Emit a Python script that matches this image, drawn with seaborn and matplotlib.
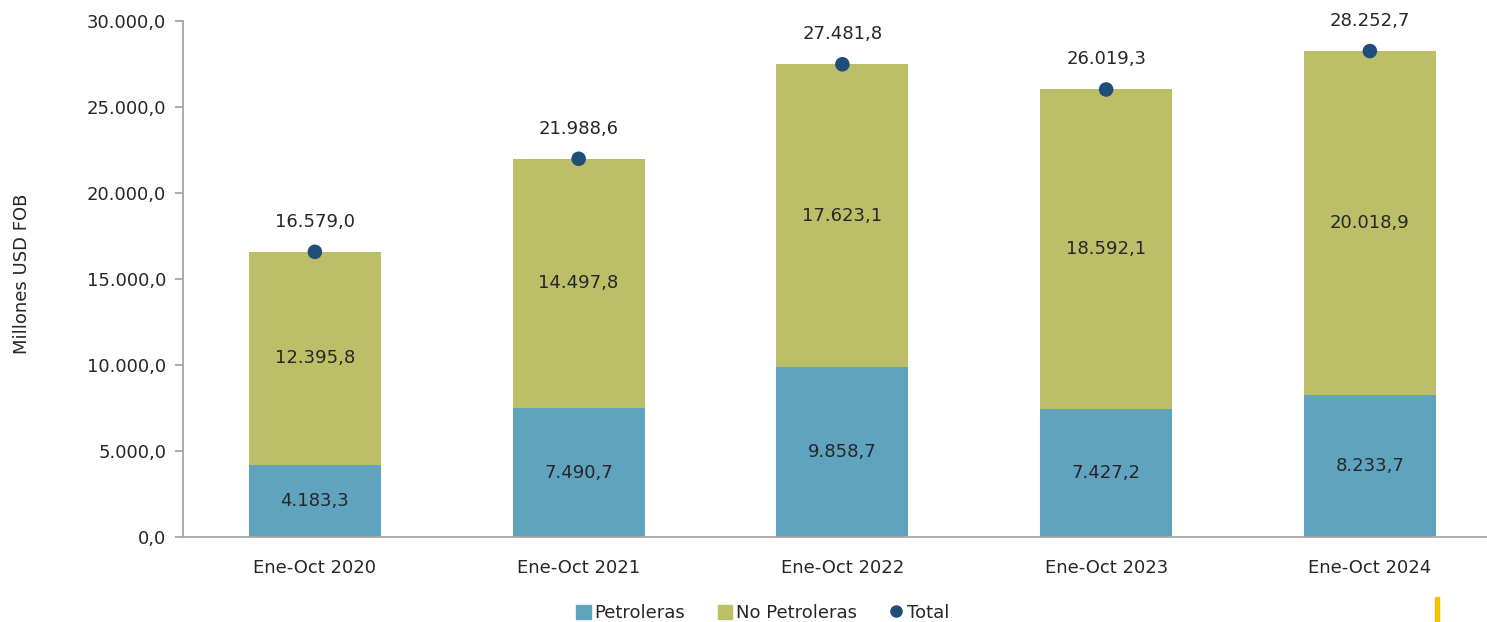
import matplotlib
matplotlib.use("Agg")
import matplotlib.pyplot as plt
import matplotlib.patches as mpatches
from matplotlib.lines import Line2D
import seaborn as sns
import pandas as pd

periods = ["Ene-Oct 2020", "Ene-Oct 2021", "Ene-Oct 2022", "Ene-Oct 2023", "Ene-Oct 2024"]
petroleras = [4183.3, 7490.7, 9858.7, 7427.2, 8233.7]
no_petroleras = [12395.8, 14497.8, 17623.1, 18592.1, 20018.9]
total = [16579.0, 21988.6, 27481.8, 26019.3, 28252.7]

C_PETRO = "#60A3BF"
C_NOPETRO = "#BCBF67"
C_TOTAL = "#1F4E79"
TXT = "#262626"
GRID = "#A6A6A6"
FS = 13

sns.set_theme(style="white")
plt.rcParams["font.family"] = ["DejaVu Sans"]


def fmt(v):
    s = f"{v:,.1f}"
    return s.replace(",", "X").replace(".", ",").replace("X", ".")


df = pd.DataFrame({"periodo": periods, "petro": petroleras,
                   "nopetro": no_petroleras, "total": total})
df["stack"] = df["petro"] + df["nopetro"]

fig = plt.figure(figsize=(14.87, 6.22), dpi=100)
ax = fig.add_axes([183 / 1487, 85 / 622, 1318.75 / 1487, 516 / 622])

# stacked bars: full stack in olive, oil exports drawn over the bottom part
sns.barplot(data=df, x="periodo", y="stack", color=C_NOPETRO, width=0.5,
            saturation=1, ax=ax, linewidth=0)
sns.barplot(data=df, x="periodo", y="petro", color=C_PETRO, width=0.5,
            saturation=1, ax=ax, linewidth=0)
sns.scatterplot(data=df, x="periodo", y="total", color=C_TOTAL, s=110,
                edgecolor="none", zorder=5, ax=ax)

for i, row in df.iterrows():
    ax.text(i, row["petro"] / 2, fmt(row["petro"]), ha="center", va="center",
            fontsize=FS, color=TXT)
    ax.text(i, row["petro"] + row["nopetro"] / 2, fmt(row["nopetro"]),
            ha="center", va="center", fontsize=FS, color=TXT)
    ax.annotate(fmt(row["total"]), (i, row["total"]), xytext=(0, 30),
                textcoords="offset pixels", ha="center", va="center",
                fontsize=FS, color=TXT)

ax.set_xlim(-0.5, 4.5)
ax.set_ylim(0, 30000)
ax.set_yticks(range(0, 30001, 5000))
ax.set_yticklabels([fmt(v) for v in range(0, 30001, 5000)])
ax.set_xlabel("")
ax.set_ylabel("")
fig.text(22 / 1487, 1 - 273.5 / 622, "Millones USD FOB", rotation=90,
         ha="center", va="center", fontsize=FS, color=TXT)

for side in ["top", "right"]:
    ax.spines[side].set_visible(False)
for side in ["left", "bottom"]:
    ax.spines[side].set_color(GRID)
    ax.spines[side].set_linewidth(1.3)

ax.tick_params(axis="y", which="both", left=True, length=6, width=1.3,
               color=GRID, labelsize=FS, labelcolor=TXT, pad=6)
ax.tick_params(axis="x", bottom=False, labelsize=FS, labelcolor=TXT, pad=10)

handles = [
    mpatches.Patch(color=C_PETRO, label="Petroleras"),
    mpatches.Patch(color=C_NOPETRO, label="No Petroleras"),
    Line2D([], [], marker="o", linestyle="none", color=C_TOTAL,
           markersize=8, label="Total"),
]
fig.legend(handles=handles, loc="center", bbox_to_anchor=(763 / 1487, 1 - 613 / 622),
           ncol=3, frameon=False, fontsize=FS, handlelength=0.8,
           handleheight=0.8, handletextpad=0.2, columnspacing=1.8,
           labelcolor=TXT)

# small yellow accent bar in the lower right corner
fig.patches.append(mpatches.Rectangle((1435 / 1487, 0), 4 / 1487, 25 / 622,
                                      transform=fig.transFigure,
                                      color="#F2C200", zorder=10))

fig.savefig("out.png", dpi=100)
